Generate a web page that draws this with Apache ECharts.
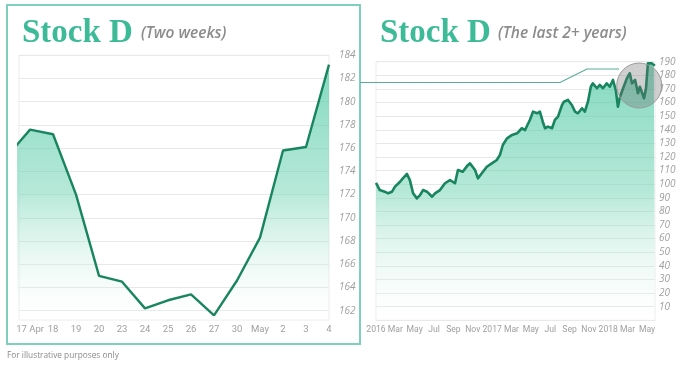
<!DOCTYPE html>
<html><head><meta charset="utf-8">
<script src="https://cdn.jsdelivr.net/npm/echarts@6/dist/echarts.min.js"></script>
<style>html,body{margin:0;padding:0;background:#fff}#c{width:680px;height:368px}</style>
</head><body><div id="c"></div>
<script>
// ---- Two weeks panel ----
const shortLabels = ['17 Apr','18','19','20','23','24','25','26','27','30','May','2','3','4'];
const shortIndex  = [-1, 0, 1, 2, 3, 4, 5, 6, 7, 8, 9, 10, 11, 12, 13];
const shortValues = [175.3, 177.6, 177.2, 172.0, 165.0, 164.5, 162.2, 162.9, 163.4, 161.6, 164.6, 168.3, 175.8, 176.1, 183.2];
const shortTicks  = [162,164,166,168,170,172,174,176,178,180,182,184];

// ---- Last 2+ years panel ----
const longDates = ['2016-01-01','2016-01-03','2016-01-13','2016-01-29','2016-02-08','2016-02-20','2016-02-29','2016-03-16','2016-03-25',
 '2016-04-07','2016-04-16','2016-04-26','2016-05-08','2016-05-18','2016-05-28','2016-06-09','2016-06-25','2016-07-04','2016-07-20',
 '2016-08-05','2016-08-21','2016-09-06','2016-09-15','2016-09-30','2016-10-16','2016-10-23','2016-11-08','2016-11-17','2016-11-29',
 '2016-12-15','2016-12-31','2017-01-16','2017-01-26','2017-02-04','2017-02-16','2017-03-03','2017-03-19','2017-04-03','2017-04-13',
 '2017-04-28','2017-05-08','2017-05-21','2017-05-30','2017-06-08','2017-06-15','2017-06-24','2017-07-07','2017-07-16','2017-07-26',
 '2017-08-08','2017-08-14','2017-08-27','2017-09-08','2017-09-18','2017-09-27','2017-10-10','2017-10-19','2017-10-29','2017-11-07',
 '2017-11-13','2017-11-26','2017-12-05','2017-12-15','2017-12-27','2018-01-06','2018-01-16','2018-01-25','2018-02-01','2018-02-07',
 '2018-02-16','2018-02-27','2018-03-08','2018-03-15','2018-03-25','2018-04-03','2018-04-09','2018-04-15','2018-04-22','2018-04-28',
 '2018-05-04','2018-05-10','2018-05-16','2018-05-23','2018-05-26'];
const longValues = [101, 101.8, 95.7, 94.5, 93.3, 94.5, 98.2, 101.8, 104.3,
 107.5, 103, 93.3, 89.6, 92, 95.7, 94.5, 90.8, 93.3, 95.7,
 100.7, 103, 100.7, 110.4, 109.2, 114, 115.3, 110.4, 104.3, 108,
 112.8, 115.3, 117.8, 121.5, 128.8, 133.7, 136.2, 137.4, 141.1, 139.8,
 147.2, 153.3, 152.1, 153.3, 145.9, 141.1, 142.3, 141.1, 147.2, 149.6,
 158.2, 160.6, 161.9, 158.2, 153.3, 152.1, 155.8, 153.3, 160.6, 171.6,
 174.1, 170.5, 172.9, 170.5, 174.1, 171.6, 176.6, 169.2, 156.9, 164.3,
 170.5, 177.8, 181.5, 174.1, 176.6, 166.8, 171.6, 172.9, 163.1, 170.5,
 188.8, 187.6, 188.8, 187.6, 187.0];
const longTickLabels = ['2016','Mar','May','Jul','Sep','Nov','2017','Mar','May','Jul','Sep','Nov','2018','Mar','May'];

function monthIndex(s){
  const [y,m,d] = s.split('-').map(Number);
  const dim = new Date(y, m, 0).getDate();
  return (y-2016)*12 + (m-1) + (d-1)/dim;
}

const lineColor = '#18855f';
const labelColor = '#a0a0a0';
function areaGrad(){
  return new echarts.graphic.LinearGradient(0,0,0,1,[
    {offset:0, color:'rgba(68,198,158,0.95)'},
    {offset:0.5, color:'rgba(110,210,178,0.72)'},
    {offset:1, color:'rgba(255,255,255,0.15)'}
  ]);
}

const chart = echarts.init(document.getElementById('c'), null, {renderer:'canvas'});
const option = {
  animation:false,
  backgroundColor:'#fff',
  title:[
    {text:'Stock D', left:22, top:17, padding:0, textStyle:{fontFamily:'Liberation Serif', fontWeight:'bold', fontSize:33, color:'#3dbb98'}},
    {text:'(Two weeks)', left:141, top:26, padding:0, textStyle:{fontFamily:'Open Sans', fontStyle:'italic', fontWeight:600, fontSize:15.5, color:'#8c8c8c'}},
    {text:'Stock D', left:380, top:17, padding:0, textStyle:{fontFamily:'Liberation Serif', fontWeight:'bold', fontSize:33, color:'#3dbb98'}},
    {text:'(The last 2+ years)', left:498, top:26, padding:0, textStyle:{fontFamily:'Open Sans', fontStyle:'italic', fontWeight:600, fontSize:15.5, color:'#8c8c8c'}},
    {text:'For illustrative purposes only', left:7, top:352, padding:0, textStyle:{fontFamily:'Open Sans', fontWeight:'normal', fontSize:8.3, color:'#8a8a8a'}}
  ],
  grid:[
    {left:19, top:55.3, width:310, height:264.7, show:true, borderColor:'#ececec', borderWidth:1},
    {left:376, top:61.7, width:279, height:258.6, show:true, borderColor:'#ededed', borderWidth:1}
  ],
  xAxis:[
    {type:'value', gridIndex:0, min:-0.48, max:13,
     axisLine:{show:false}, axisTick:{show:false}, splitLine:{show:false},
     axisLabel:{color:labelColor, fontFamily:'Roboto', fontSize:9.5, margin:5, showMinLabel:true, showMaxLabel:true, hideOverlap:false,
       customValues:shortLabels.map((_,i)=>i), formatter:v=>shortLabels[Math.round(v)]}},
    {type:'value', gridIndex:1, min:0, max:28.83,
     axisLine:{show:false}, axisTick:{show:false}, splitLine:{show:false},
     axisLabel:{color:labelColor, fontFamily:'Roboto', fontSize:8.6, margin:5, showMinLabel:true, showMaxLabel:true, hideOverlap:false,
       customValues:longTickLabels.map((_,i)=>i*2), formatter:v=>longTickLabels[Math.round(v/2)]}}
  ],
  yAxis:[
    {type:'value', gridIndex:0, position:'right', min:161.2, max:184,
     axisLine:{show:false},
     axisTick:{show:true, length:7, lineStyle:{color:'#e8e8e8'}, customValues:shortTicks},
     splitLine:{show:true, lineStyle:{color:'#e8e8e8'}},
     axisLabel:{color:labelColor, fontFamily:'Open Sans', fontSize:10, fontStyle:'italic', margin:10, customValues:shortTicks}},
    {type:'value', gridIndex:1, position:'right', min:0, max:190, interval:10,
     axisLine:{show:false}, axisTick:{show:false},
     splitLine:{show:true, lineStyle:{color:'#e8e8e8'}},
     axisLabel:{color:labelColor, fontFamily:'Open Sans', fontSize:10, fontStyle:'italic', margin:4, showMinLabel:false}}
  ],
  series:[
    {type:'line', xAxisIndex:0, yAxisIndex:0, symbol:'none', clip:true,
     data:shortIndex.map((x,i)=>[x, shortValues[i]]),
     lineStyle:{color:lineColor, width:2.4}, areaStyle:{color:areaGrad(), origin:'start'}},
    {type:'line', xAxisIndex:1, yAxisIndex:1, symbol:'none', clip:true,
     data:longDates.map((d,i)=>[monthIndex(d), longValues[i]]),
     lineStyle:{color:lineColor, width:2.6, join:'round'}, areaStyle:{color:areaGrad(), origin:'start'}}
  ]
};
chart.setOption(option);

const c = chart.convertToPixel({gridIndex:1}, [27.2, 172.5]);
chart.setOption({
  graphic:[
    {type:'rect', shape:{x:7, y:5, width:353, height:339}, style:{fill:'none', stroke:'#80cebd', lineWidth:2}, z:100},
    {type:'polyline', shape:{points:[[360,82.5],[560,82.5],[587,69],[619,69]]}, style:{fill:'none', stroke:'#5aab9a', lineWidth:1.2}, z:100},
    {type:'circle', shape:{cx:c[0], cy:c[1], r:22.5}, style:{fill:'rgba(110,110,110,0.33)', stroke:'#9a9a9a', lineWidth:1}, z:100}
  ]
});
</script></body></html>
